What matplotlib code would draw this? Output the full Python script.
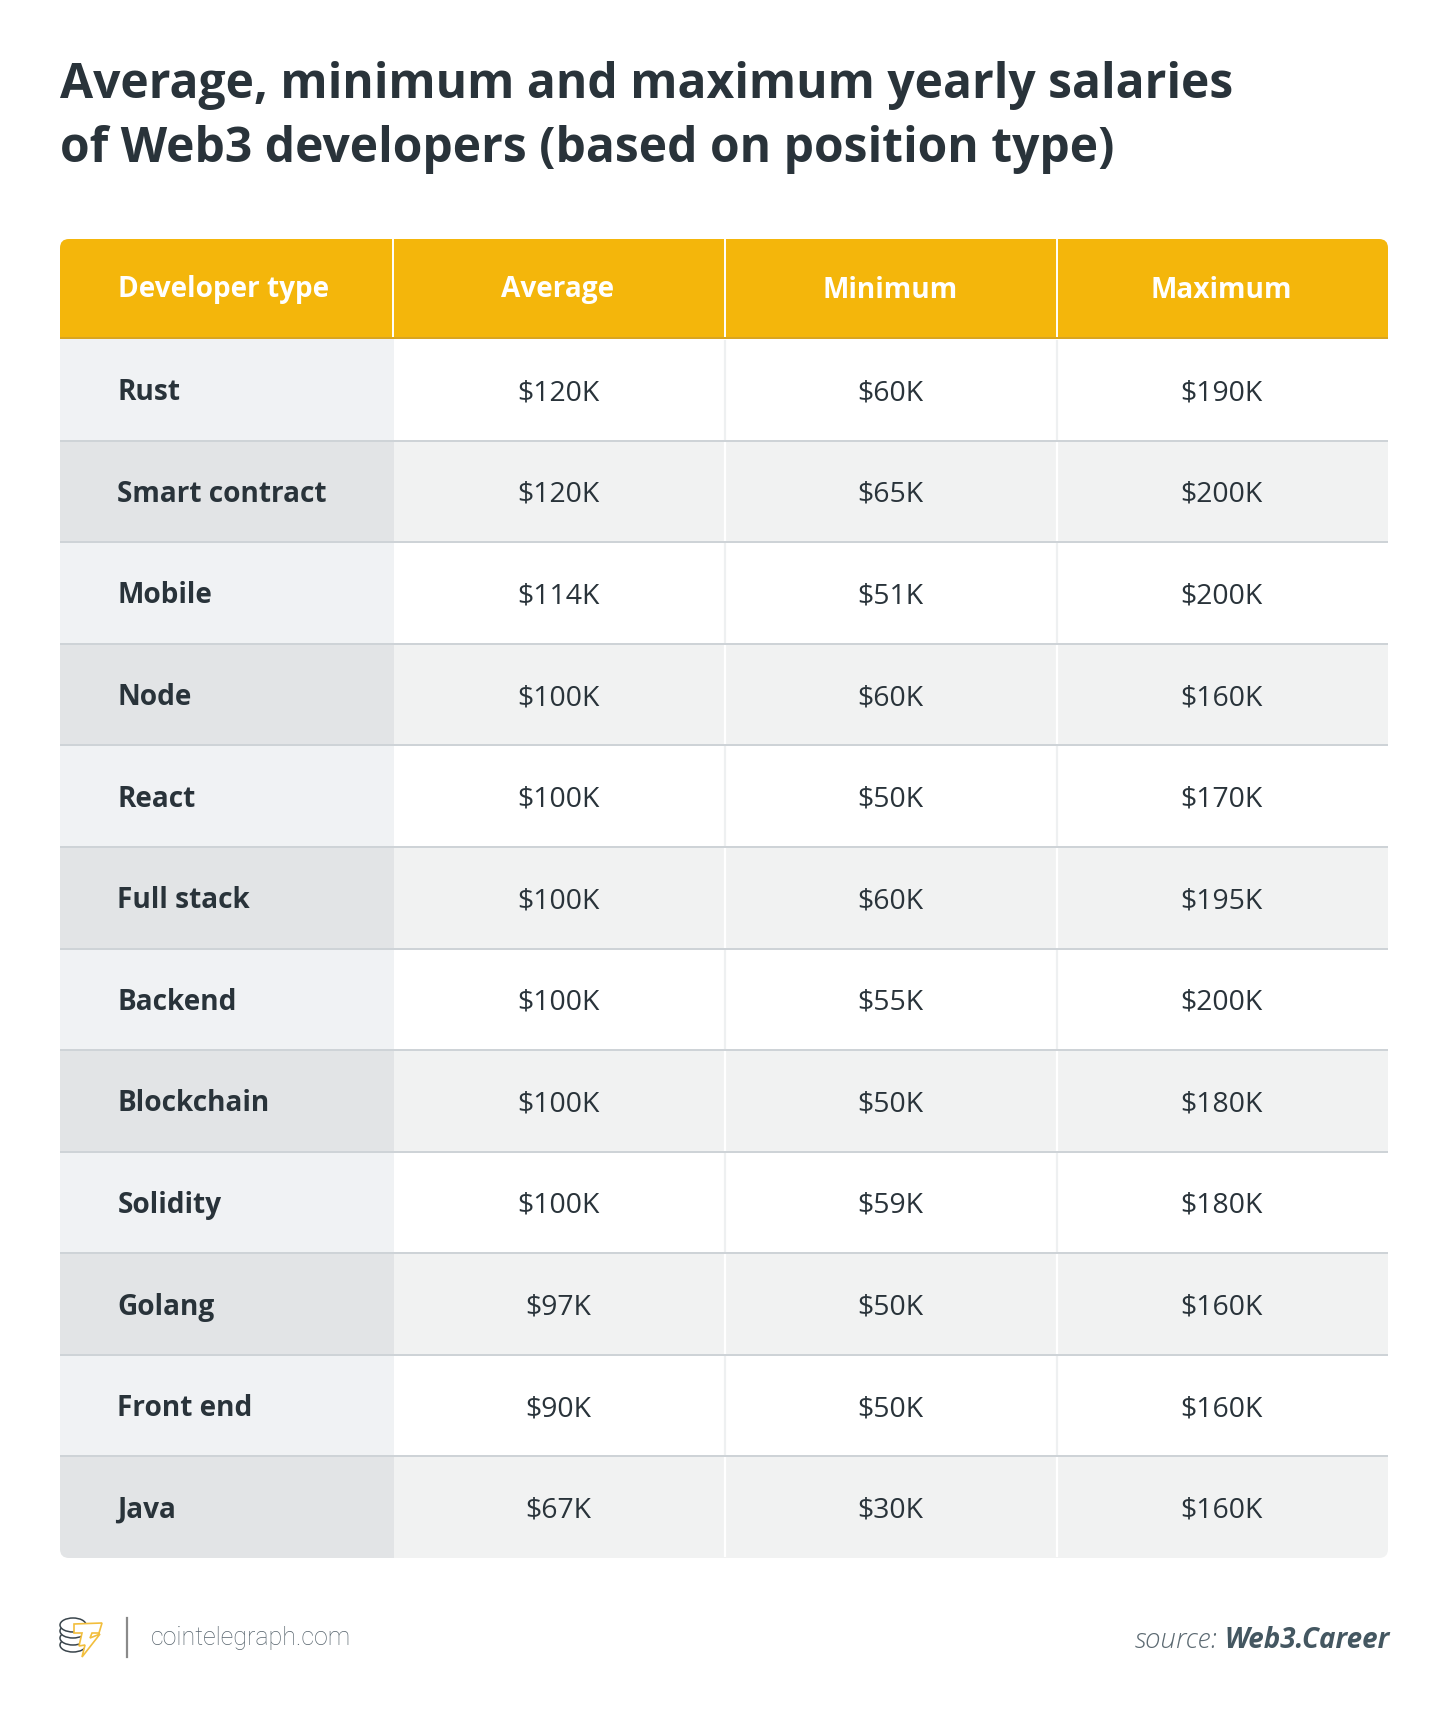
import matplotlib
matplotlib.use("Agg")
import matplotlib.pyplot as plt
from matplotlib.patches import Rectangle, FancyBboxPatch, Ellipse, Polygon

title_lines = ["Average, minimum and maximum yearly salaries",
               "of Web3 developers (based on position type)"]
columns = ["Developer type", "Average", "Minimum", "Maximum"]
developers = ["Rust", "Smart contract", "Mobile", "Node", "React", "Full stack",
              "Backend", "Blockchain", "Solidity", "Golang", "Front end", "Java"]
average = ["$120K", "$120K", "$114K", "$100K", "$100K", "$100K",
           "$100K", "$100K", "$100K", "$97K", "$90K", "$67K"]
minimum = ["$60K", "$65K", "$51K", "$60K", "$50K", "$60K",
           "$55K", "$50K", "$59K", "$50K", "$50K", "$30K"]
maximum = ["$190K", "$200K", "$200K", "$160K", "$170K", "$195K",
           "$200K", "$180K", "$180K", "$160K", "$160K", "$160K"]

FONT = "Open Sans"
DARK = "#29333A"
W, H = 1450, 1718
fig = plt.figure(figsize=(W/100, H/100), dpi=100, facecolor="white")
ax = fig.add_axes([0, 0, 1, 1])
ax.set_xlim(0, W); ax.set_ylim(H, 0); ax.axis("off")

L, R, T, HB, B = 60, 1388, 239, 339, 1558
XS = [60, 393, 725, 1057, 1388]
row_h = (B - HB) / len(developers)

clip = FancyBboxPatch((L+9, T+9), R-L-18, B-T-18, boxstyle="round,pad=9,rounding_size=9",
                      fc="none", ec="none", transform=ax.transData)
ax.add_patch(clip)
def rect(x, y, w, h, c, z=1):
    p = Rectangle((x, y), w, h, fc=c, ec="none", zorder=z)
    ax.add_patch(p); p.set_clip_path(clip); return p

rect(L, T, R-L, HB-T, "#F4B60B")
rect(L, HB-2, R-L, 2, "#D9A520", 2)
for x in XS[1:-1]:
    ax.plot([x, x], [T, HB-2], color="white", lw=1.4, zorder=3, solid_capstyle="butt")
ax.text(118, (T+HB)/2+1, columns[0], color="white", fontsize=20.2, fontweight="bold", family=FONT, va="center", ha="left", zorder=4)
for i in range(1, 4):
    ax.text((XS[i]+XS[i+1])/2-1, (T+HB)/2+1, columns[i], color="white", fontsize=20.2, fontweight="bold", family=FONT, va="center", ha="center", zorder=4)

for r, name in enumerate(developers):
    y0 = HB + r*row_h
    odd = r % 2 == 1
    rect(L, y0, XS[1]+1-L, row_h, "#E2E4E6" if odd else "#F0F2F4")
    rect(XS[1]+1, y0, R-XS[1]-1, row_h, "#F1F2F2" if odd else "#FFFFFF")
    if r > 0:
        rect(L, y0-1, R-L, 2, "#CED3D7", 3)
    cy = y0 + row_h/2
    ax.text(117.5, cy+3, name, color=DARK, fontsize=20.2, fontweight="bold", family=FONT, va="center", ha="left", zorder=4)
    for i, vals in enumerate([average, minimum, maximum], start=1):
        ax.text((XS[i]+XS[i+1])/2-1, cy+3.5, vals[r], color=DARK, fontsize=20.4, family=FONT, va="center", ha="center", zorder=4)
    for x in XS[2:-1]:
        ax.plot([x, x], [y0+1, y0+row_h-1], color="white" if odd else "#EEF0F1", lw=1.6, zorder=3, solid_capstyle="butt")

for i, line in enumerate(title_lines):
    ax.text(60, 85 + i*65, line, color=DARK, fontsize=34.6, fontweight="bold", family=FONT, va="center", ha="left")

# footer logo
for y in [1645, 1638, 1631, 1625]:
    ax.add_patch(Ellipse((73, y), 26, 14, fc="white", ec="#3A454C", lw=1.1, zorder=5))
ax.add_patch(Polygon([(74,1624),(102,1623),(99,1633),(92,1633),(90,1638),(100,1634),(82,1657),(85,1645),(79,1646),(82,1633),(74,1633)],
                     closed=True, fc="white", ec="#F2BE3C", lw=1.2, zorder=6))
ax.plot([127, 127], [1618, 1657], color="#8A8A8A", lw=1.6)
ax.text(151, 1638, "cointelegraph.com", color="#56636C", fontsize=18, family="Roboto", fontweight="light", va="center", ha="left")

t2 = ax.text(1390, 1641, "Web3.Career", color="#445761", fontsize=20, fontweight="bold", style="italic", family=FONT, va="center", ha="right")
fig.canvas.draw()
bb = t2.get_window_extent()
ax.text(bb.x0 - 7, 1641, "source:", color="#5C6A72", fontsize=20, fontweight="light", style="italic", family=FONT, va="center", ha="right")

fig.savefig("out.png", dpi=100, facecolor="white")
